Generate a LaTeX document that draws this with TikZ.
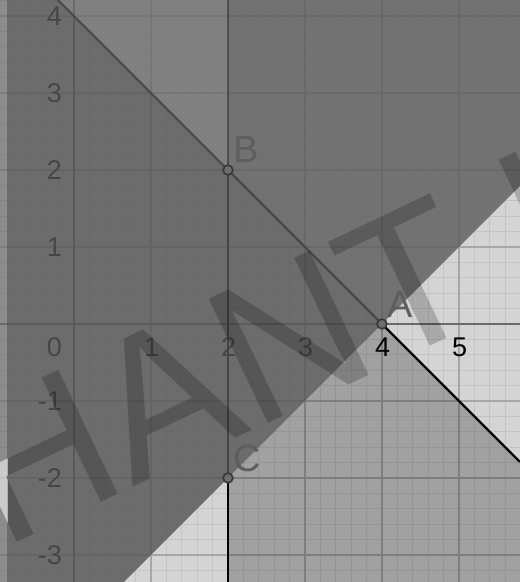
\documentclass[tikz,border=0pt]{standalone}
\usepackage{fontspec}
\setmainfont{Liberation Sans}
\definecolor{basegray}{HTML}{D4D4D4}
\definecolor{gridminor}{HTML}{C4C4C4}
\definecolor{gridmajor}{HTML}{A6A6A6}
\definecolor{axisgray}{HTML}{6A6A6A}
\definecolor{upgray}{HTML}{6A6A6A}
\definecolor{dotgray}{HTML}{6E6E6E}
\definecolor{dotline}{HTML}{383838}
\definecolor{labgray}{HTML}{5E5E5E}
\tikzset{
  minorgrid/.style={draw=gridminor, line width=0.35pt},
  majorgrid/.style={draw=gridmajor, line width=0.4pt},
  axisline/.style={draw=axisgray, line width=0.6pt},
  ticklab/.style={font=\fontsize{10}{10}\selectfont, inner sep=0pt},
  ptlab/.style={font=\fontsize{14}{14}\selectfont, text=labgray, inner sep=0pt, anchor=base west},
  ptdot/.style={circle, fill=dotgray, draw=dotline, line width=0.6pt, minimum size=3.6pt, inner sep=0pt},
  boundline/.style={draw=black, line width=0.85pt},
  shadeup/.style={fill=upgray, fill opacity=0.79},
  shadeextra/.style={fill=black, fill opacity=#1},
  wmark/.style={rotate=25.5, anchor=base west, inner sep=0pt, font=\fontsize{73.9}{74}\selectfont},
}
\begin{document}
\begin{tikzpicture}
		\useasboundingbox (-0.961,-3.351) rectangle (5.792,4.208);
		\clip (-0.961,-3.351) rectangle (5.792,4.208);
		\fill[basegray] (-0.961,-3.351) rectangle (5.792,4.208);
		% grid
		\draw[minorgrid,step=0.2] (-1,-3.4) grid (5.8,4.4);
		\draw[majorgrid,step=1] (-1,-3.4) grid (5.8,4.4);
		% axes
		\draw[axisline] (-0.961,0) -- (5.792,0);
		\draw[axisline] (0,-3.351) -- (0,4.208);
		% ticks
		\node[ticklab,anchor=north east] (t0) at (-0.15,-0.17) {0};
		\foreach \x in {1,2,3,4,5} % x-axis
		\node[ticklab,anchor=north] (tx\x) at (\x+0.01,-0.17) {\x};
		\foreach \y in {-3,-2,-1,1,2,3,4} % y-axis
		\node[ticklab,anchor=east] (ty\y) at (-0.15,\y) {\y};

		% points
		\coordinate (A) at (4,0);
		\coordinate (B) at (2,2);
		\coordinate (C) at (2,-2);
		\coordinate (top2) at (2,4.208);
		\coordinate (bot2) at (2,-3.351);
		\coordinate (topBA) at (-0.208,4.208);
		\coordinate (endBA) at (5.792,-1.792);
		\coordinate (endAC) at (5.792,1.792);
		\coordinate (botAC) at (0.649,-3.351);

		% shading below AC
		\fill[shadeextra=0.24] (C) -- (A) -- (endBA) -- (5.792,-3.351) -- (bot2) -- cycle;
		% lines
		\draw[boundline] (top2) -- (B) -- (C) -- (bot2);
		\draw[boundline] (topBA) -- (B) -- (A) -- (endBA);
		% shading above AC
		\fill[shadeup] (botAC) -- (endAC) -- (5.792,4.208) -- (-0.87,4.208) -- (-0.87,-3.351) -- cycle;
		\fill[shadeextra=0.1] (C) -- (endAC) -- (5.792,4.208) -- (top2) -- cycle;
		\fill[shadeextra=0.15] (B) -- (C) -- (botAC) -- (-0.87,-3.351) -- (-0.87,4.208) -- (topBA) -- cycle;
		\fill[shadeextra=0.05] (B) -- (A) -- (C) -- cycle;
		% left strip
		\fill[upgray,fill opacity=0.68] (-0.961,-3.351) rectangle (-0.87,4.208);

		\node[ptdot] (pA) at (A) {};
		\node[ptdot] (pB) at (B) {};
		\node[ptdot] (pC) at (C) {};
		\node[ptlab,xshift=0.06cm,yshift=0.09cm] (lA) at (A) {A};
		\node[ptlab,xshift=0.06cm,yshift=0.1cm] (lB) at (B) {B};
		\node[ptlab,xshift=0.06cm,yshift=0.08cm] (lC) at (C) {C};

		% watermark
		\begin{scope}
		\clip (-0.87,-3.351) rectangle (5.792,4.208);
		\node[wmark,text=black,text opacity=0.2] (wm) at (-0.935,-2.935) {HANT H};
		\end{scope}
		\begin{scope}
		\clip (-0.961,-3.351) rectangle (-0.87,4.208);
		\node[wmark,text=white,text opacity=0.55] (wmstrip) at (-0.935,-2.935) {HANT H};
		\end{scope}
\end{tikzpicture}
\end{document}
